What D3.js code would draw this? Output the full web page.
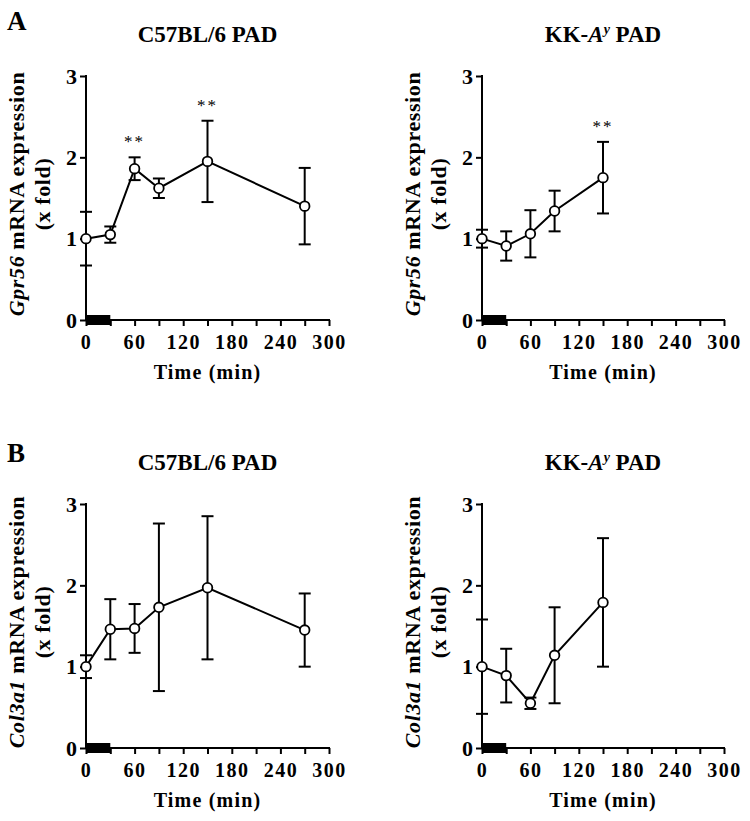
<!DOCTYPE html>
<html><head><meta charset="utf-8">
<script src="https://cdn.jsdelivr.net/npm/d3@7"></script>
<style>
html,body{margin:0;padding:0;background:#fff;}
text{font-family:"Liberation Serif","Times New Roman",serif;}
</style></head>
<body>
<svg id="chart" width="750" height="821"></svg>
<script>
// ---------- data ----------
const timesC57 = [0, 30, 60, 90, 150, 270];
const timesKK = [0, 30, 60, 90, 150];

const gpr56C57Mean = [1.00, 1.05, 1.86, 1.62, 1.95, 1.40];
const gpr56C57Err  = [0.33, 0.10, 0.14, 0.12, 0.50, 0.47];
const gpr56C57Sig  = ["", "", "**", "", "**", ""];

const gpr56KKMean = [1.00, 0.91, 1.06, 1.34, 1.75];
const gpr56KKErr  = [0.11, 0.18, 0.29, 0.25, 0.44];
const gpr56KKSig  = ["", "", "", "", "**"];

const col3C57Mean = [1.00, 1.46, 1.47, 1.73, 1.97, 1.45];
const col3C57Err  = [0.14, 0.37, 0.30, 1.03, 0.88, 0.45];
const col3C57Sig  = ["", "", "", "", "", ""];

const col3KKMean = [1.00, 0.89, 0.55, 1.14, 1.79];
const col3KKErr  = [0.58, 0.33, 0.07, 0.59, 0.79];
const col3KKSig  = ["", "", "", "", ""];

const xTickValues = [0, 30, 60, 90, 120, 150, 180, 210, 240, 270, 300];
const xTickLabels = ["0", "", "60", "", "120", "", "180", "", "240", "", "300"];
const yTickValues = [0, 1, 2, 3];
const stimulusWindow = [0, 30];
const xDomain = [0, 300];
const yDomain = [0, 3];

const panelLetters = ["A", "B"];
const genes = ["Gpr56", "Col3a1"];

// ---------- layout ----------
const svg = d3.select("#chart");
const FONT = '"Liberation Serif","Times New Roman",serif';

const panels = [
  {gene: genes[0], strain: "C57", t: timesC57, m: gpr56C57Mean, e: gpr56C57Err, s: gpr56C57Sig, x0: 86, x1: 329, yT: 76, yB: 320},
  {gene: genes[0], strain: "KK",  t: timesKK,  m: gpr56KKMean,  e: gpr56KKErr,  s: gpr56KKSig,  x0: 482, x1: 724, yT: 76, yB: 320},
  {gene: genes[1], strain: "C57", t: timesC57, m: col3C57Mean, e: col3C57Err, s: col3C57Sig, x0: 86, x1: 329, yT: 504, yB: 748},
  {gene: genes[1], strain: "KK",  t: timesKK,  m: col3KKMean,  e: col3KKErr,  s: col3KKSig,  x0: 482, x1: 724, yT: 504, yB: 748}
];

// panel letters
svg.append("text").attr("x", 7).attr("y", 30).attr("font-size", 27).attr("font-weight", "bold").text(panelLetters[0]);
svg.append("text").attr("x", 7).attr("y", 462).attr("font-size", 27).attr("font-weight", "bold").text(panelLetters[1]);

panels.forEach(p => {
  const x = d3.scaleLinear().domain(xDomain).range([p.x0, p.x1]);
  const y = d3.scaleLinear().domain(yDomain).range([p.yB, p.yT]);
  const g = svg.append("g");
  const cx = (p.x0 + p.x1) / 2;

  // title
  const title = g.append("text").attr("x", cx).attr("y", p.yT - 34)
    .attr("text-anchor", "middle").attr("font-size", 23).attr("font-weight", "bold");
  if (p.strain === "C57") {
    title.text("C57BL/6 PAD");
  } else {
    title.append("tspan").text("KK-");
    title.append("tspan").attr("font-style", "italic").text("A");
    title.append("tspan").attr("font-style", "italic").attr("font-size", 14).attr("dy", -8).text("y");
    title.append("tspan").attr("dy", 8).text(" PAD");
  }

  // y label
  const ymid = (p.yT + p.yB) / 2 - 4;
  const yl1 = g.append("text").attr("transform", `translate(${p.x0 - 62},${ymid}) rotate(-90)`)
    .attr("text-anchor", "middle").attr("font-size", 22).attr("font-weight", "bold").attr("letter-spacing", 0.6);
  yl1.append("tspan").attr("font-style", "italic").text(p.gene);
  yl1.append("tspan").text(" mRNA expression");
  g.append("text").attr("transform", `translate(${p.x0 - 36},${ymid}) rotate(-90)`)
    .attr("text-anchor", "middle").attr("font-size", 22).attr("font-weight", "bold").attr("letter-spacing", 0.6)
    .text("(x fold)");

  // axes
  const xAxis = d3.axisBottom(x).tickValues(xTickValues)
    .tickFormat((d, i) => xTickLabels[i]).tickSize(6).tickSizeOuter(0);
  const gx = g.append("g").attr("transform", `translate(0,${p.yB})`).call(xAxis);
  gx.select(".domain").attr("stroke-width", 2).attr("d", `M${p.x0 - 1},0H${p.x1 + 1}`);
  gx.selectAll(".tick line").attr("stroke-width", 2);
  gx.selectAll(".tick text").attr("dy", null).attr("y", 29)
    .attr("font-family", FONT).attr("font-size", 20).attr("font-weight", "bold")
    .attr("letter-spacing", 1.5).attr("fill", "#000");

  const yAxis = d3.axisLeft(y).tickValues(yTickValues).tickFormat(d3.format("d"))
    .tickSize(6).tickSizeOuter(0).tickPadding(3);
  const gy = g.append("g").attr("transform", `translate(${p.x0},0)`).call(yAxis);
  gy.select(".domain").attr("stroke-width", 2).attr("d", `M0,${p.yT - 1}V${p.yB + 1}`);
  gy.selectAll(".tick line").attr("stroke-width", 2);
  gy.selectAll(".tick text").attr("font-family", FONT).attr("font-size", 22)
    .attr("font-weight", "bold").attr("fill", "#000");

  // x label
  g.append("text").attr("x", cx).attr("y", p.yB + 59).attr("text-anchor", "middle")
    .attr("font-size", 20).attr("font-weight", "bold").attr("letter-spacing", 1.2).text("Time (min)");

  // stimulus bar
  g.append("rect").attr("x", x(stimulusWindow[0])).attr("width", x(stimulusWindow[1]) - x(stimulusWindow[0]))
    .attr("y", y(0) - 5).attr("height", 10).attr("fill", "#000");

  const data = p.t.map((t, i) => ({t, m: p.m[i], e: p.e[i], s: p.s[i]}));

  // error bars
  const eb = g.append("g").attr("stroke", "#000").attr("stroke-width", 2).attr("fill", "none");
  data.forEach(d => {
    eb.append("line").attr("x1", x(d.t)).attr("x2", x(d.t)).attr("y1", y(d.m + d.e)).attr("y2", y(d.m - d.e));
    eb.append("line").attr("x1", x(d.t) - 6).attr("x2", x(d.t) + 6).attr("y1", y(d.m + d.e)).attr("y2", y(d.m + d.e));
    eb.append("line").attr("x1", x(d.t) - 6).attr("x2", x(d.t) + 6).attr("y1", y(d.m - d.e)).attr("y2", y(d.m - d.e));
  });

  // line
  g.append("path").datum(data).attr("fill", "none").attr("stroke", "#000").attr("stroke-width", 2)
    .attr("d", d3.line().x(d => x(d.t)).y(d => y(d.m)));

  // points
  g.selectAll("circle.pt").data(data).join("circle").attr("class", "pt")
    .attr("cx", d => x(d.t)).attr("cy", d => y(d.m)).attr("r", 4.8)
    .attr("fill", "#fff").attr("stroke", "#000").attr("stroke-width", 1.8);

  // significance stars
  g.selectAll("text.sig").data(data.filter(d => d.s)).join("text").attr("class", "sig")
    .attr("x", d => x(d.t)).attr("y", d => y(d.m + d.e) - 10)
    .attr("text-anchor", "middle").attr("font-size", 17).attr("letter-spacing", 2)
    .text(d => d.s);
});
</script>
</body></html>
